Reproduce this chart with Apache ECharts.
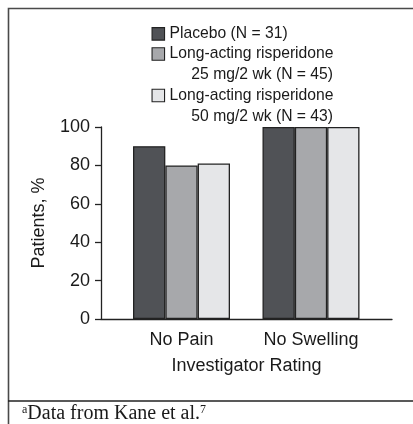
<!DOCTYPE html>
<html>
<head>
<meta charset="utf-8">
<script src="https://cdn.jsdelivr.net/npm/echarts@6/dist/echarts.min.js"></script>
<style>
  html, body { margin: 0; padding: 0; background: #fff; }
  #chart { width: 413px; height: 424px; }
</style>
</head>
<body>
<div id="chart"></div>
<script>
const categories = ['No Pain', 'No Swelling'];
const seriesNames = [
  'Placebo (N = 31)',
  'Long-acting risperidone\n     25 mg/2 wk (N = 45)',
  'Long-acting risperidone\n     50 mg/2 wk (N = 43)'
];
const placebo = [90, 100];
const risp25 = [80, 100];
const risp50 = [81, 100];
const yTicks = [0, 20, 40, 60, 80, 100];
const yAxisTitle = 'Patients, %';
const xAxisTitle = 'Investigator Rating';

const colors = ['#505256', '#a7a8ab', '#e5e6e8'];
const values = [placebo, risp25, risp50];
const FONT = 'Liberation Sans, Arial, Helvetica, sans-serif';

const chart = echarts.init(document.getElementById('chart'), null, { renderer: 'canvas' });

const legendTops = [23.5, 23, 64.5];
const legends = seriesNames.map((name, i) => ({
  show: true,
  left: 151.5,
  top: legendTops[i],
  orient: 'vertical',
  padding: 0,
  itemWidth: 12.5,
  itemHeight: 12.5,
  icon: 'rect',
  selectedMode: false,
  data: [name],
  // multi-line entries: an empty leading line keeps the square beside the first text line
  formatter: n => (n.indexOf('\n') >= 0 ? '\n' + n : n),
  itemStyle: { borderColor: '#222', borderWidth: 1.1 },
  textStyle: {
    fontFamily: FONT,
    fontSize: 15.7,
    lineHeight: 20.7,
    color: '#1a1a1a'
  }
}));

const option = {
  animation: false,
  backgroundColor: '#fff',
  legend: legends,
  grid: [
    { left: 116.75, right: 37.25, top: 127, bottom: 105 },
    { left: 101, right: 21, top: 127, bottom: 105 }
  ],
  xAxis: [
    {
      type: 'category', gridIndex: 0, data: categories,
      axisLine: { show: false }, axisTick: { show: false },
      axisLabel: { fontFamily: FONT, fontSize: 18, color: '#1a1a1a', margin: 12 }
    },
    {
      type: 'value', gridIndex: 1, min: 0, max: 1,
      axisLine: { show: true, lineStyle: { color: '#222', width: 1.3 } },
      axisTick: { show: false }, axisLabel: { show: false }, splitLine: { show: false },
      name: xAxisTitle, nameLocation: 'middle', nameGap: 38,
      nameTextStyle: { fontFamily: FONT, fontSize: 18, color: '#1a1a1a' }
    }
  ],
  yAxis: [
    {
      type: 'value', gridIndex: 0, min: 0, max: 100, interval: 20,
      show: false
    },
    {
      type: 'value', gridIndex: 1, min: yTicks[0], max: yTicks[yTicks.length - 1], interval: 20,
      axisLine: { show: true, lineStyle: { color: '#222', width: 1.3 } },
      axisTick: { show: true, length: 6, inside: false, lineStyle: { color: '#222', width: 1.3 } },
      axisLabel: { fontFamily: FONT, fontSize: 18, color: '#1a1a1a', margin: 11 },
      splitLine: { show: false },
      name: yAxisTitle, nameLocation: 'middle', nameGap: 53, nameRotate: 90,
      nameTextStyle: { fontFamily: FONT, fontSize: 18, color: '#1a1a1a' }
    }
  ],
  series: seriesNames.map((name, i) => ({
    name: name,
    type: 'bar',
    xAxisIndex: 0,
    yAxisIndex: 0,
    data: values[i],
    barGap: '0%',
    barCategoryGap: '25.1%',
    itemStyle: { color: colors[i], borderColor: '#222', borderWidth: 1.3 },
    emphasis: { disabled: true }
  })),
  graphic: [
    {
      type: 'rect', silent: true,
      shape: { x: 8.5, y: 8.5, width: 430, height: 430 },
      style: { fill: 'none', stroke: '#4a4a4a', lineWidth: 1.6 }
    },
    {
      type: 'line', silent: true,
      shape: { x1: 8, y1: 401, x2: 413, y2: 401 },
      style: { stroke: '#222', lineWidth: 1.6 }
    },
    {
      type: 'text', silent: true, left: 22, top: 404,
      style: {
        text: '{s|a}{t|Data from Kane et al.}{s|7}',
        rich: {
          s: { fontFamily: 'Liberation Serif, Times New Roman, serif', fontSize: 12, verticalAlign: 'top', lineHeight: 20, padding: [0, 0, 8, 0], fill: '#1a1a1a' },
          t: { fontFamily: 'Liberation Serif, Times New Roman, serif', fontSize: 20, lineHeight: 20, fill: '#1a1a1a' }
        }
      }
    }
  ]
};

chart.setOption(option);
</script>
</body>
</html>
